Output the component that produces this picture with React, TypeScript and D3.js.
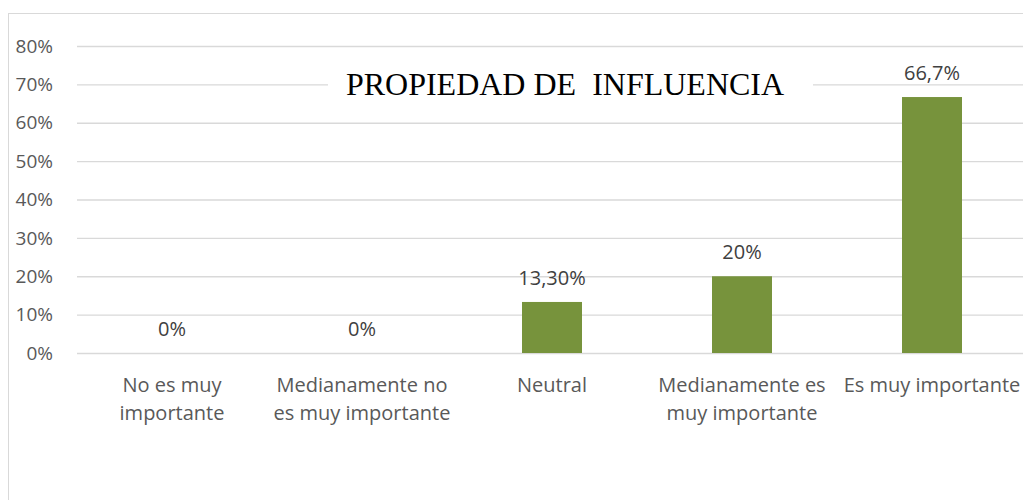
import * as d3 from 'd3';
import React, { useEffect, useRef } from 'react';

const categories = ['No es muy importante', 'Medianamente no es muy importante', 'Neutral', 'Medianamente es muy importante', 'Es muy importante'];
const categoryLines = [['No es muy', 'importante'], ['Medianamente no', 'es muy importante'], ['Neutral'], ['Medianamente es', 'muy importante'], ['Es muy importante']];
const values = [0, 0, 13.3, 20, 66.7];
const valueLabels = ['0%', '0%', '13,30%', '20%', '66,7%'];
const yTicks = [0, 10, 20, 30, 40, 50, 60, 70, 80];
const title = 'PROPIEDAD DE  INFLUENCIA';

const App = () => {
  const ref = useRef<SVGSVGElement | null>(null);

  useEffect(() => {
    const svg = d3.select(ref.current);
    svg.selectAll('*').remove();

    const left = 77, right = 1027, top = 46, bottom = 353;
    const font = 'Open Sans, Noto Sans, sans-serif';

    const x = d3.scaleBand().domain(categories).range([left, right]);
    const y = d3.scaleLinear().domain([0, 80]).range([bottom, top]);

    // outer frame
    svg.append('rect')
      .attr('x', 8.5).attr('y', 13.5)
      .attr('width', 1030).attr('height', 500)
      .attr('fill', 'white').attr('stroke', '#d9d9d9');

    // grid
    svg.append('g')
      .selectAll('line')
      .data(yTicks)
      .join('line')
      .attr('x1', left).attr('x2', 1023)
      .attr('y1', d => y(d) + 0.5).attr('y2', d => y(d) + 0.5)
      .attr('stroke', '#d9d9d9').attr('stroke-width', 1.3);

    svg.append('g')
      .selectAll('text')
      .data(yTicks)
      .join('text')
      .attr('x', 53).attr('y', d => y(d))
      .attr('dy', '0.35em')
      .attr('text-anchor', 'end')
      .attr('font-family', font).attr('font-size', 19)
      .attr('fill', '#595959')
      .text(d => d + '%');

    const barW = 60;
    svg.append('g')
      .selectAll('rect')
      .data(values)
      .join('rect')
      .attr('x', (d, i) => x(categories[i])! + x.bandwidth() / 2 - barW / 2)
      .attr('y', d => y(d))
      .attr('width', barW)
      .attr('height', d => y(0) - y(d))
      .attr('fill', '#77933c');

    svg.append('g')
      .selectAll('text')
      .data(values)
      .join('text')
      .attr('x', (d, i) => x(categories[i])! + x.bandwidth() / 2)
      .attr('y', d => y(d) - 17)
      .attr('text-anchor', 'middle')
      .attr('font-family', font).attr('font-size', 20)
      .attr('fill', '#404040')
      .text((d, i) => valueLabels[i]);

    const cat = svg.append('g')
      .selectAll('text')
      .data(categories)
      .join('text')
      .attr('text-anchor', 'middle')
      .attr('font-family', font).attr('font-size', 20)
      .attr('fill', '#595959');
    cat.each(function (d, i) {
      const t = d3.select(this);
      categoryLines[i].forEach((line, j) => {
        t.append('tspan')
          .attr('x', x(d)! + x.bandwidth() / 2)
          .attr('y', 392 + j * 28)
          .text(line);
      });
    });

    // title with white box over the grid
    const tx = 565, ty = 95;
    svg.append('rect')
      .attr('x', 328).attr('y', 62)
      .attr('width', 485).attr('height', 46)
      .attr('fill', 'white');
    svg.append('text')
      .attr('x', tx).attr('y', ty)
      .attr('text-anchor', 'middle')
      .attr('font-family', 'Liberation Serif, Times New Roman, serif')
      .attr('font-size', 32)
      .attr('fill', '#000')
      .attr('xml:space', 'preserve')
      .style('white-space', 'pre')
      .text(title);
  }, []);

  return (
    <svg ref={ref} width={1023} height={500} style={{ position: 'absolute', left: 0, top: 0, display: 'block' }} />
  );
};

export default App;
